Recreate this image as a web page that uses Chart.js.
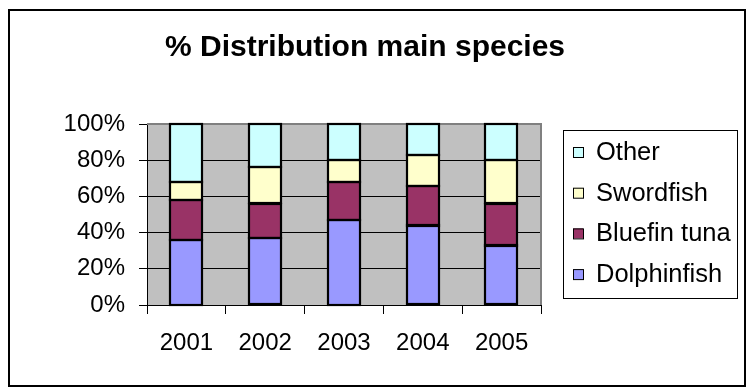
<!DOCTYPE html>
<html>
<head>
<meta charset="utf-8">
<script src="https://cdn.jsdelivr.net/npm/chart.js@4/dist/chart.umd.min.js"></script>
<style>
html,body{margin:0;padding:0;background:#fff;}
canvas{display:block;}
</style>
</head>
<body>
<canvas id="c" width="746" height="387"></canvas>
<script>
const titleText = '% Distribution main species';
const years = ['2001', '2002', '2003', '2004', '2005'];
const dolphinfish = [36, 37, 47, 44, 33];
const bluefinTuna = [22, 19, 21, 22, 23];
const swordfish = [10, 20, 12, 17, 24];
const other = [32, 24, 20, 17, 20];
const yTicks = [0, 20, 40, 60, 80, 100];

const FONT = "'Liberation Sans', Arial, sans-serif";

const series = [
  {label: 'Dolphinfish', data: dolphinfish, color: '#9999FF'},
  {label: 'Bluefin tuna', data: bluefinTuna, color: '#993366'},
  {label: 'Swordfish', data: swordfish, color: '#FFFFCC'},
  {label: 'Other', data: other, color: '#CCFFFF'}
];

const decor = {
  id: 'decor',
  beforeDraw(chart) {
    const {ctx, chartArea: a} = chart;
    ctx.save();
    ctx.fillStyle = '#fff';
    ctx.fillRect(0, 0, chart.width, chart.height);
    ctx.fillStyle = '#C0C0C0';
    ctx.fillRect(a.left, a.top, a.right - a.left, a.bottom - a.top);
    ctx.restore();
  },
  beforeDatasetsDraw(chart) {
    const {ctx, chartArea: a} = chart;
    ctx.save();
    ctx.strokeStyle = '#808080';
    ctx.lineWidth = 2;
    ctx.beginPath();
    ctx.moveTo(a.left, a.top);
    ctx.lineTo(a.right, a.top);
    ctx.lineTo(a.right, a.bottom);
    ctx.stroke();
    ctx.restore();
  },
  afterDatasetsDraw(chart) {
    const {ctx} = chart;
    ctx.save();
    ctx.strokeStyle = '#000';
    ctx.lineWidth = 2.2;
    chart.data.datasets.forEach((ds, di) => {
      const meta = chart.getDatasetMeta(di);
      meta.data.forEach(el => {
        const p = el.getProps(['x', 'y', 'base', 'width'], true);
        ctx.strokeRect(Math.round(p.x - p.width / 2), Math.round(p.y), Math.round(p.width), Math.round(p.base - p.y));
      });
    });
    ctx.restore();
  },
  afterDraw(chart) {
    const {ctx} = chart;
    ctx.save();
    // outer frame
    ctx.strokeStyle = '#000';
    ctx.lineWidth = 2;
    ctx.strokeRect(9, 10, 736, 376);
    // title
    ctx.fillStyle = '#000';
    ctx.font = 'bold 30px ' + FONT;
    ctx.textAlign = 'center';
    ctx.textBaseline = 'alphabetic';
    ctx.fillText(titleText, 365, 56);
    // legend
    ctx.lineWidth = 1;
    ctx.strokeRect(563.5, 130.5, 174, 168);
    ctx.font = '25.5px ' + FONT;
    ctx.textAlign = 'left';
    ctx.textBaseline = 'middle';
    const items = chart.data.datasets.slice().reverse();
    items.forEach((ds, i) => {
      const cy = 152 + i * 40.7;
      ctx.fillStyle = ds.backgroundColor;
      ctx.fillRect(573, cy - 5, 10, 10);
      ctx.strokeStyle = '#000';
      ctx.strokeRect(573.5, cy - 4.5, 10, 10);
      ctx.fillStyle = '#000';
      ctx.fillText(ds.label, 596, cy + 1);
    });
    ctx.restore();
  }
};

new Chart(document.getElementById('c'), {
  type: 'bar',
  data: {
    labels: years,
    datasets: series.map(s => ({
      label: s.label,
      data: s.data,
      backgroundColor: s.color,
      borderWidth: 0,
      categoryPercentage: 1.0,
      barPercentage: 0.41
    }))
  },
  options: {
    responsive: false,
    devicePixelRatio: 1,
    animation: false,
    layout: {padding: {top: 124, right: 205, bottom: 0, left: 0}},
    plugins: {legend: {display: false}, title: {display: false}, tooltip: {enabled: false}},
    scales: {
      x: {
        stacked: true,
        afterFit(s) { s.height = 82; },
        grid: {drawOnChartArea: false, offset: true, tickLength: 9, tickColor: '#000', color: '#000'},
        border: {color: '#000', width: 1},
        ticks: {color: '#000', font: {family: FONT, size: 24}, padding: 15, maxRotation: 0}
      },
      y: {
        stacked: true,
        min: 0,
        max: 100,
        afterFit(s) { s.width = 147; },
        afterBuildTicks(s) { s.ticks = yTicks.map(v => ({value: v})); },
        grid: {color: '#000', tickColor: '#000', tickLength: 8},
        border: {color: '#000', width: 1},
        ticks: {color: '#000', font: {family: FONT, size: 24}, padding: 14, callback: v => v + '%'}
      }
    }
  },
  plugins: [decor]
});
</script>
</body>
</html>
